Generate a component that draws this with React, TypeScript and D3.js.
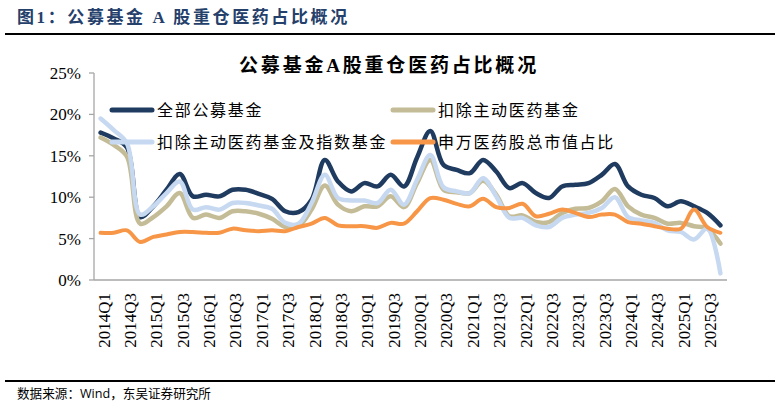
import React from "react";
import * as d3 from "d3";

const categories = [
  "2014Q1","2014Q2","2014Q3","2014Q4","2015Q1","2015Q2","2015Q3","2015Q4",
  "2016Q1","2016Q2","2016Q3","2016Q4","2017Q1","2017Q2","2017Q3","2017Q4",
  "2018Q1","2018Q2","2018Q3","2018Q4","2019Q1","2019Q2","2019Q3","2019Q4",
  "2020Q1","2020Q2","2020Q3","2020Q4","2021Q1","2021Q2","2021Q3","2021Q4",
  "2022Q1","2022Q2","2022Q3","2022Q4","2023Q1","2023Q2","2023Q3","2023Q4",
  "2024Q1","2024Q2","2024Q3","2024Q4","2025Q1","2025Q2","2025Q3","2025Q4",
];

const allFunds = [17.8,17.1,16.0,7.6,8.9,10.9,12.8,10.1,10.3,10.1,10.9,10.9,10.4,9.8,8.3,8.2,9.7,14.5,11.9,10.7,11.7,11.3,12.7,11.3,14.8,18.0,13.9,13.3,12.9,14.5,13.1,11.1,11.7,10.5,9.9,11.3,11.5,11.7,12.7,14.0,11.3,10.3,9.9,8.9,9.5,8.9,8.1,6.6];
const exActive = [17.2,16.3,14.9,6.8,7.6,8.9,10.5,7.5,7.9,7.5,8.3,8.3,8.0,7.4,6.4,6.5,8.5,11.4,9.1,8.3,8.9,8.9,10.1,8.8,11.7,14.5,10.9,10.6,10.5,12.0,10.3,7.7,7.8,7.0,7.0,8.1,8.6,8.7,9.5,11.0,8.9,7.9,7.5,6.8,6.9,6.5,6.2,4.4];
const exActiveIndex = [19.5,18.1,16.5,7.9,8.9,10.5,11.9,8.5,8.8,8.5,9.3,9.3,9.0,8.6,6.9,6.8,9.3,12.7,9.9,9.6,9.6,9.3,10.9,9.1,12.1,15.1,11.2,10.7,10.5,12.3,10.1,7.5,7.5,6.6,6.4,7.5,7.9,8.1,8.7,10.0,7.6,7.2,6.9,6.0,5.8,4.9,6.2,0.8];
const swPharma = [5.7,5.7,6.0,4.6,5.2,5.5,5.8,5.8,5.7,5.7,6.2,6.0,5.9,6.0,5.9,6.4,6.8,7.5,6.6,6.5,6.5,6.3,6.9,6.8,8.3,9.9,9.7,9.2,8.9,9.8,8.8,8.7,9.2,7.7,8.0,8.5,8.1,7.6,7.9,7.9,7.0,6.8,6.5,6.2,6.2,8.5,6.4,5.7];

const seriesNames = ["全部公募基金", "扣除主动医药基金", "扣除主动医药基金及指数基金", "申万医药股总市值占比"];
const yTicks = [0, 5, 10, 15, 20, 25];

const headerTitle = "图1：公募基金 A 股重仓医药占比概况";
const chartTitle = "公募基金A股重仓医药占比概况";
const sourceText = "数据来源：Wind，东吴证券研究所";

const W = 779, H = 413;
const serif = "'Liberation Serif', 'Times New Roman', 'Noto Sans CJK SC', serif";
const cjk = "'Liberation Serif', 'Noto Sans CJK SC', serif";

export default function App() {
  const x = d3.scaleBand<string>().domain(categories).range([94, 727]).paddingInner(0).paddingOuter(0);
  const cx = (c: string) => (x(c) as number) + x.bandwidth() / 2;
  const y = d3.scaleLinear().domain([0, 25]).range([280, 73]);

  const series = [
    { name: seriesNames[0], values: allFunds, color: "#1F3B60", width: 4.5 },
    { name: seriesNames[1], values: exActive, color: "#C4BC97", width: 4.5 },
    { name: seriesNames[2], values: exActiveIndex, color: "#C6D9F1", width: 4.5 },
    { name: seriesNames[3], values: swPharma, color: "#F79646", width: 4 },
  ];

  const line = d3
    .line<number>()
    .x((_, i) => cx(categories[i]))
    .y((d) => y(d))
    .curve(d3.curveCatmullRom.alpha(0.5));

  const legendPos = [
    { x: 112, y: 110 },
    { x: 393, y: 110 },
    { x: 112, y: 142 },
    { x: 393, y: 142 },
  ];

  return (
    <svg width={W} height={H} style={{ position: "absolute", left: 0, top: 0, background: "#fff" }}>
      <rect x={0} y={0} width={W} height={H} fill="#fff" />
      <text x={17} y={23} fontFamily={cjk} fontSize={17} fontWeight="bold" fill="#24406B" letterSpacing={2.6}>
        {headerTitle}
      </text>
      <line x1={5} x2={775} y1={34} y2={34} stroke="#000" strokeWidth={2} />

      <text x={389} y={72} textAnchor="middle" fontFamily={cjk} fontSize={19} fontWeight="bold" fill="#000" letterSpacing={2.8}>
        {chartTitle}
      </text>

      {/* y axis */}
      <line x1={94} x2={94} y1={y(25)} y2={y(0)} stroke="#A6A6A6" strokeWidth={1.3} />
      {yTicks.map((t) => (
        <g key={t}>
          <line x1={89} x2={94} y1={y(t)} y2={y(t)} stroke="#A6A6A6" strokeWidth={1.3} />
          <text x={81} y={y(t)} dy="0.35em" textAnchor="end" fontFamily={serif} fontSize={17} fill="#000">
            {t}%
          </text>
        </g>
      ))}
      {/* x axis */}
      <line x1={94} x2={727} y1={y(0)} y2={y(0)} stroke="#A6A6A6" strokeWidth={1.3} />
      {categories.map((c, i) =>
        i % 2 === 0 ? (
          <text
            key={c}
            transform={`translate(${cx(c) + 9},293) rotate(-90)`}
            textAnchor="end"
            fontFamily={serif}
            fontSize={17}
            fill="#000"
          >
            {c}
          </text>
        ) : null
      )}

      {series.map((s) => (
        <path key={s.name} d={line(s.values) || ""} fill="none" stroke={s.color} strokeWidth={s.width} strokeLinejoin="round" strokeLinecap="round" />
      ))}

      {series.map((s, i) => (
        <g key={"lg" + s.name}>
          <line x1={legendPos[i].x} x2={legendPos[i].x + 40} y1={legendPos[i].y} y2={legendPos[i].y} stroke={s.color} strokeWidth={5} strokeLinecap="round" />
          <text x={legendPos[i].x + 45} y={legendPos[i].y} dy="0.36em" fontFamily={cjk} fontSize={16} fill="#000" letterSpacing={1.7}>
            {s.name}
          </text>
        </g>
      ))}

      <line x1={5} x2={775} y1={381} y2={381} stroke="#000" strokeWidth={2} />
      <text x={17} y={398} fontFamily="'Open Sans', 'Noto Sans CJK SC', sans-serif" fontSize={12.6} fill="#000">
        {sourceText}
      </text>
    </svg>
  );
}
